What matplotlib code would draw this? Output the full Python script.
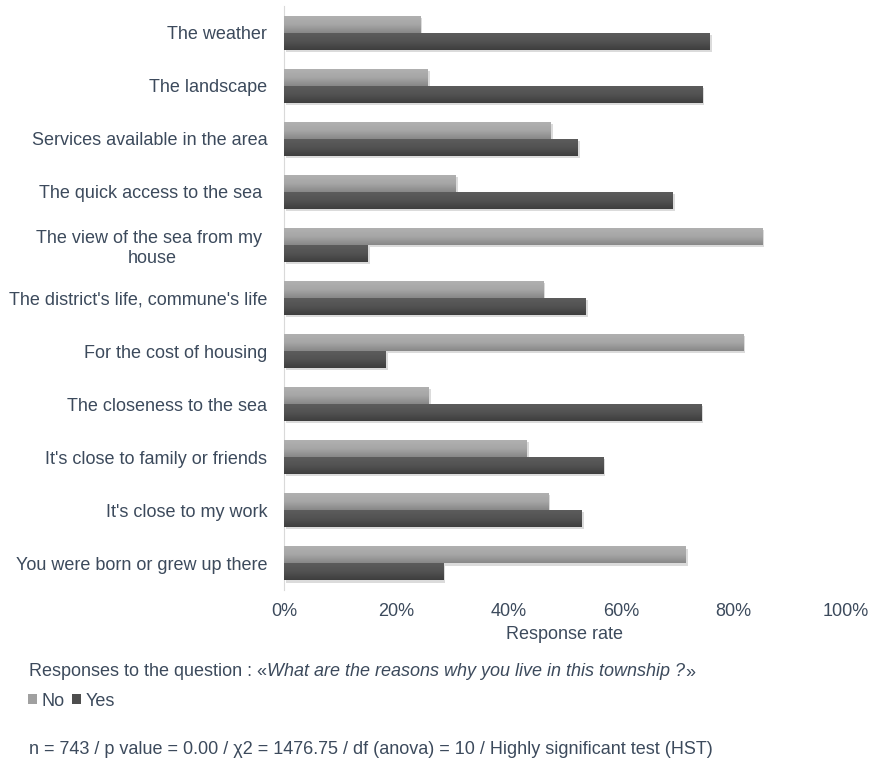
import numpy as np
import matplotlib
matplotlib.use('Agg')
import matplotlib.pyplot as plt
from matplotlib import patheffects as pe
from matplotlib.colors import LinearSegmentedColormap
from matplotlib.patches import Patch

categories = [
    "The weather",
    "The landscape",
    "Services available in the area",
    "The quick access to the sea ",
    "The view of the sea from my \nhouse",
    "The district's life, commune's life",
    "For the cost of housing",
    "The closeness to the sea",
    "It's close to family or friends",
    "It's close to my work",
    "You were born or grew up there",
]
no_values = [24.2, 25.6, 47.5, 30.6, 85.1, 46.1, 81.7, 25.8, 43.2, 47.0, 71.5]
yes_values = [75.8, 74.4, 52.3, 69.2, 14.9, 53.7, 18.1, 74.2, 56.8, 53.0, 28.3]
xticks = [0, 20, 40, 60, 80, 100]
xtick_labels = ["0%", "20%", "40%", "60%", "80%", "100%"]
series_labels = ["No", "Yes"]

TXT = '#3c4a5c'
FS = 13
plt.rcParams['font.family'] = ['Liberation Sans', 'DejaVu Sans']

W, H = 869, 762
fig = plt.figure(figsize=(W / 100, H / 100), dpi=100)
ax = fig.add_axes([284 / W, 1 - 590 / H, (846 - 284) / W, (590 - 6) / H])

y = np.arange(len(categories))
h = 0.32
shadow = [pe.SimplePatchShadow(offset=(1.5, -1.5), shadow_rgbFace='#9a9a9a', alpha=0.35), pe.Normal()]
bars_no = ax.barh(y - h / 2, no_values, height=h, color='#9c9c9c', zorder=2)
bars_yes = ax.barh(y + h / 2, yes_values, height=h, color='#4e4e4e', zorder=2)

cmap_no = LinearSegmentedColormap.from_list('no', ['#b0b0b0', '#a6a6a6', '#888888'])
cmap_yes = LinearSegmentedColormap.from_list('yes', ['#5c5c5c', '#525252', '#3e3e3e'])
grad = np.linspace(0, 1, 64).reshape(-1, 1)
for bars, cm in ((bars_no, cmap_no), (bars_yes, cmap_yes)):
    for b in bars:
        b.set_path_effects(shadow)
        x0, y0, w, hh = b.get_x(), b.get_y(), b.get_width(), b.get_height()
        im = ax.imshow(grad, cmap=cm, aspect='auto', extent=(x0, x0 + w, y0 + hh, y0),
                       origin='upper', zorder=3, interpolation='bilinear')
        im.set_clip_path(b)

ax.set_xlim(0, 100)
ax.set_ylim(len(categories) - 0.5, -0.5)
ax.set_xticks(xticks)
ax.set_xticklabels(xtick_labels)
ax.set_yticks(y)
ax.set_yticklabels(categories, multialignment='center')
ax.tick_params(axis='both', length=0, labelsize=FS, labelcolor=TXT)
ax.tick_params(axis='x', pad=9)
ax.tick_params(axis='y', pad=12)
for s in ['top', 'right', 'bottom']:
    ax.spines[s].set_visible(False)
ax.spines['left'].set_color('#d9d9d9')
ax.set_xlabel("Response rate", fontsize=FS, color=TXT, labelpad=5)

t1 = fig.text(29 / W, 1 - 672 / H, "Responses to the question : «", fontsize=FS, color=TXT, va='center')
t2 = fig.add_artist(plt.Annotation("What are the reasons why you live in this township ?", xy=(1, 0),
                                   xycoords=t1, va='bottom', fontsize=FS, color=TXT, style='italic'))
t3 = fig.add_artist(plt.Annotation("»", xy=(1, 0), xycoords=t2, va='bottom', fontsize=FS, color=TXT))

handles = [Patch(facecolor='#a0a0a0', edgecolor='none'), Patch(facecolor='#4e4e4e', edgecolor='none')]
leg = fig.legend(handles=handles, labels=series_labels, loc='center left',
                 bbox_to_anchor=(28 / W, 1 - 701 / H), ncol=2, frameon=False, fontsize=FS,
                 handlelength=0.5, handleheight=0.5, handletextpad=0.25, columnspacing=0.4,
                 borderpad=0, borderaxespad=0)
for t in leg.get_texts():
    t.set_color(TXT)

fig.text(29 / W, 1 - 750 / H,
         "n = 743 / p value = 0.00 / χ2 = 1476.75 / df (anova) = 10 / Highly significant test (HST)",
         fontsize=FS, color=TXT, va='center')

fig.savefig('out.png', dpi=100)
